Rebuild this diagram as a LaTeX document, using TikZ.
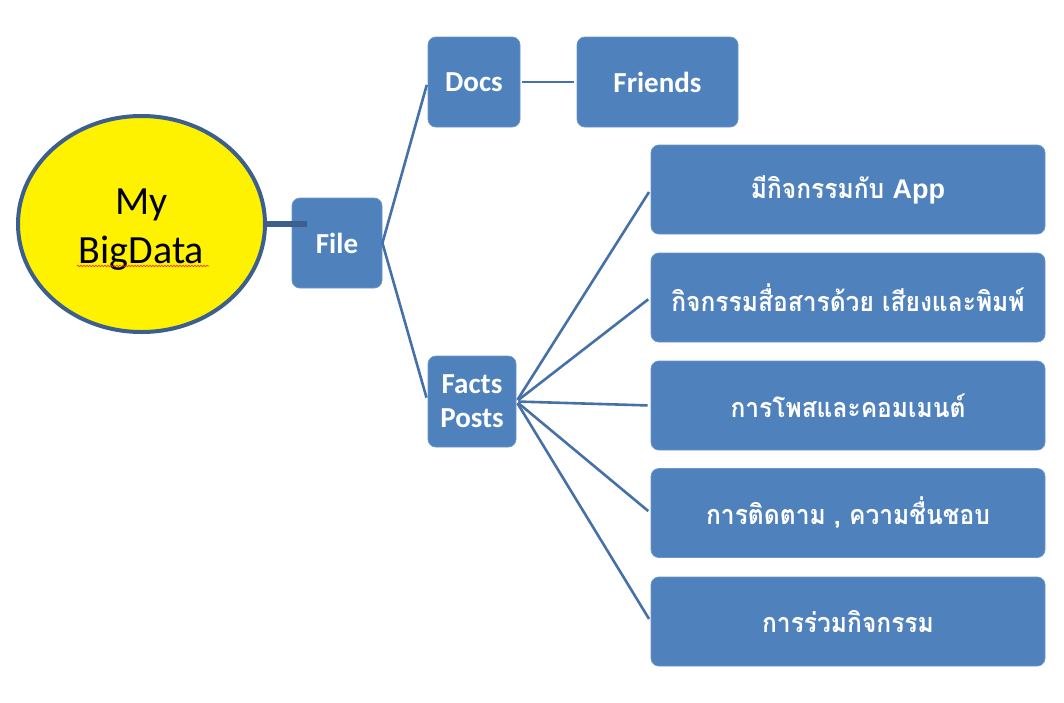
\documentclass[tikz,border=0pt]{standalone}
\usepackage{fontspec}
\setmainfont{Carlito}
\newfontfamily\thai[Script=Thai,FakeStretch=0.91]{Loma}
\newfontfamily\arial{Liberation Sans}
\usetikzlibrary{shapes.geometric,decorations.pathmorphing}
\definecolor{boxblue}{HTML}{4F81BD}
\definecolor{boxedge}{HTML}{6A95C9}
\definecolor{lineblue}{HTML}{4670A8}
\definecolor{ringblue}{HTML}{3C5F8F}
\definecolor{spellred}{HTML}{E03030}
\begin{document}
\begin{tikzpicture}[x=1pt,y=-1pt,
  box/.style={draw=boxedge, line width=0.8pt, fill=boxblue, rounded corners=8pt,
    text=white, font=\bfseries\fontsize{29}{34}\selectfont, align=center,
    inner sep=0pt, minimum height=90pt},
  thaibox/.style={box, minimum width=394pt, minimum height=89pt,
    font=\thai\bfseries\fontsize{27}{30}\selectfont},
  link/.style={draw=lineblue, line width=2.6pt}]
\useasboundingbox (0,0) rectangle (1064,702);

\node[ellipse, draw=ringblue, line width=4pt, fill=yellow, minimum width=247pt,
  minimum height=216pt, inner sep=0pt] (big) at (141.5,224) {};
\node[align=center, font=\fontsize{40}{49}\selectfont, inner sep=0pt]
  (bigtext) at (141.5,230) {My\\BigData};

\node[box, minimum width=90pt] (file) at (337,243) {File};
\node[box, minimum width=92pt] (docs) at (474,82) {Docs};
\node[box, minimum width=161pt] (friends) at (657.5,82) {Friends};
\node[box, minimum width=88pt, minimum height=91pt] (facts) at (472,401.5) {Facts\\Posts};

\node[thaibox] (t1) at (848,189.5) {มีกิจกรรมกับ {\arial\fontsize{27}{30}\selectfont App}};
\node[thaibox] (t2) at (848,297.5) {กิจกรรมสื่อสารด้วย เสียงและพิมพ์};
\node[thaibox] (t3) at (848,405.5) {การโพสและคอมเมนต์};
\node[thaibox] (t4) at (848,513) {การติดตาม , ความชื่นชอบ};
\node[thaibox] (t5) at (848,621.5) {การร่วมกิจกรรม};

\draw[ringblue, line width=6pt] (big.east) -- ([xshift=15pt]big.east -| file.west);
\draw[link, shorten >=3pt] (file.east) -- (docs.west);
\draw[link, shorten >=4pt] (file.east) -- (facts.west);
\draw[link, shorten <=2pt, shorten >=3pt] (docs.east) -- (friends.west);
\foreach \t in {t1,t2,t3,t4,t5}
  \draw[link, shorten <=2pt, shorten >=3pt] (facts.east) -- (\t.west);

\draw[spellred, line width=0.6pt, decorate,
  decoration={snake, amplitude=0.8pt, segment length=3pt}]
  (77,266) -- (209,266);
\end{tikzpicture}
\end{document}
